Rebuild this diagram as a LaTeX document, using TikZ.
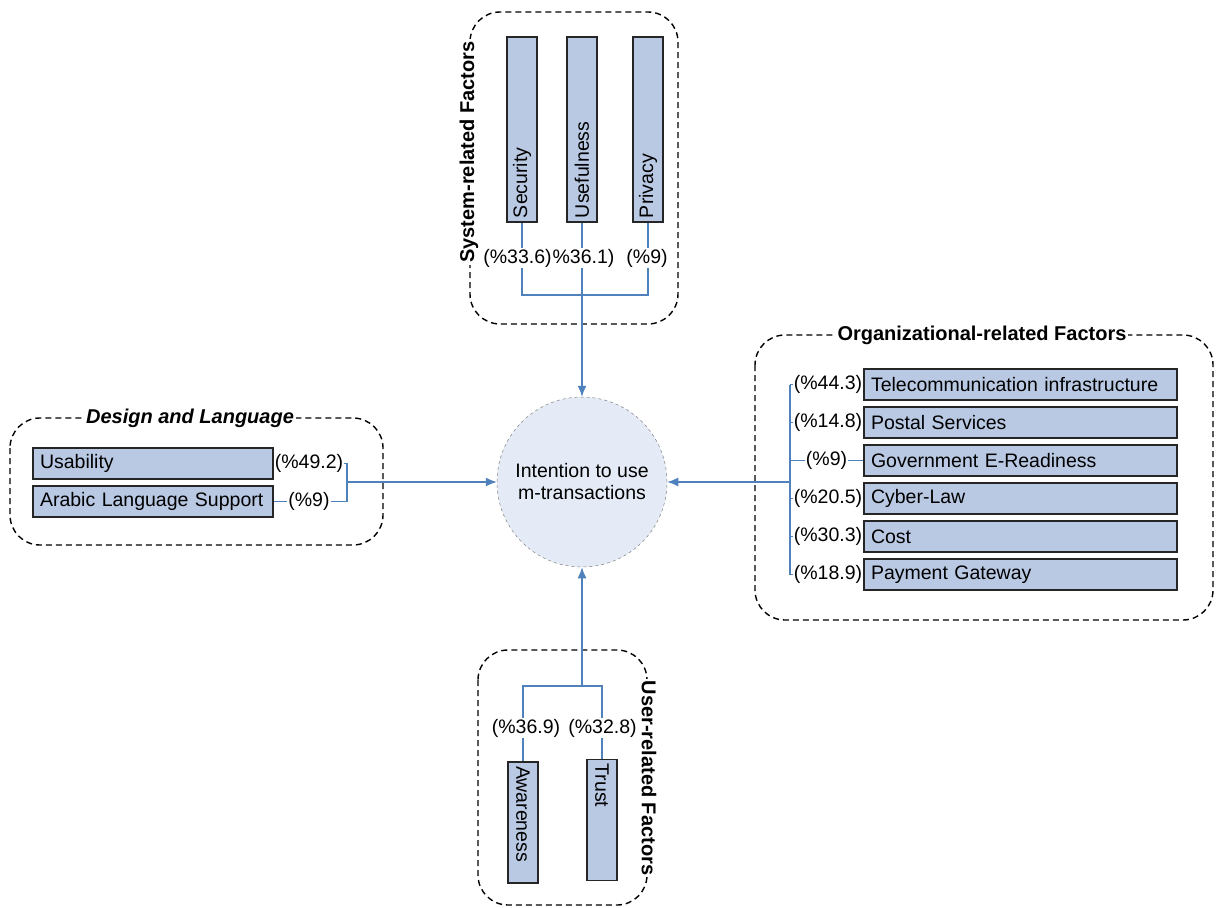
\documentclass[tikz,border=0pt]{standalone}
\usepackage{fontspec}
\setmainfont{Liberation Sans}
\usetikzlibrary{arrows.meta}
\definecolor{linkblue}{HTML}{4F81BD}
\definecolor{barfill}{HTML}{B9C9E3}
\definecolor{barline}{HTML}{262626}
\definecolor{circfill}{HTML}{E4EBF6}
\begin{document}
\begin{tikzpicture}[x=1pt,y=-1pt,
  txt/.style={font=\fontsize{19.5}{22}\selectfont},
  bar/.style={draw=barline, fill=barfill, line width=1.3pt, txt, inner ysep=0pt},
  hbar/.style={bar, minimum height=31pt, text width=#1, align=left, inner xsep=7pt},
  vbar/.style={bar, minimum height=30pt, text width=#1, align=left, inner xsep=4pt},
  pct/.style={txt, inner sep=1pt},
  grpbox/.style={draw=black, line width=1.4pt, dash pattern=on 6pt off 4pt, rounded corners=30pt},
  grplabel/.style={fill=white, inner sep=2pt, font=\fontsize{20}{24}\selectfont\bfseries},
  link/.style={draw=linkblue, line width=1.4pt},
  arrow/.style={link, -{Latex[length=11pt,width=9pt]}}
]
\useasboundingbox[fill=white] (0,0) rectangle (1222,907);

% group frames
\draw[grpbox] (470,12) rectangle (678,324);
\draw[grpbox] (10,418) rectangle (383,545);
\draw[grpbox] (755,335) rectangle (1213,620);
\draw[grpbox] (478,650) rectangle (647,905);

\node[grplabel, rotate=90] (sysl) at (469,152) {System-related Factors};
\node[grplabel, font=\fontsize{20}{24}\selectfont\bfseries\itshape] (desl) at (190,418) {Design and Language};
\node[grplabel] (orgl) at (982,335) {Organizational-related Factors};
\node[grplabel, rotate=-90] (usrl) at (649,778) {User-related Factors};

% central construct
\node[circle, minimum size=170pt, fill=circfill, draw=gray, dashed, line width=0.5pt,
      txt, align=center, font=\fontsize{19.5}{22}\selectfont] (c) at (582,482)
      {Intention to use\\m-transactions};

% system-related factors
\node[vbar=177pt, rotate=90] (sec) at (522,129.5) {Security};
\node[vbar=177pt, rotate=90] (use) at (582,129.5) {Usefulness};
\node[vbar=177pt, rotate=90] (priv) at (648,129.5) {Privacy};
\node[pct, inner xsep=0pt] (s1) at (517.5,258) {(\%33.6)};
\node[pct, inner xsep=0pt] (s2) at (583.5,258) {\%36.1)};
\node[pct] (s3) at (647,258) {(\%9)};
\coordinate (sbus) at (582,295);
\draw[link] (sec.west) -- (sec.west |- s1.north);
\draw[link] (use.west) -- (use.west |- s2.north);
\draw[link] (priv.west) -- (priv.west |- s3.north);
\draw[link] (s1.south -| sec.west) -- (sec.west |- sbus) -- (priv.west |- sbus) -- (s3.south -| priv.west);
\draw[link] (s2.south -| use.west) -- (use.west |- sbus);
\draw[arrow] (sbus) -- (c.north);

% design and language
\node[hbar=226pt] (usab) at (153,463.5) {Usability};
\node[hbar=226pt] (arab) at (153,501.5) {Arabic Language Support};
\node[pct, anchor=west] (d1) at (usab.east) {(\%49.2)};
\node[pct] (d2) at (309,501.5) {(\%9)};
\coordinate (dbus) at (347,482);
\draw[link] (d1.east) -| (dbus |- d2.east) -- (d2.east);
\draw[link] (arab.east) -- (d2.west);
\draw[arrow] (dbus) -- (c.west);

% organizational-related factors
\node[hbar=299pt] (o1) at (1020.5,384.5) {Telecommunication infrastructure};
\node[hbar=299pt] (o2) at (1020.5,422.5) {Postal Services};
\node[hbar=299pt] (o3) at (1020.5,460.5) {Government E-Readiness};
\node[hbar=299pt] (o4) at (1020.5,498.5) {Cyber-Law};
\node[hbar=299pt] (o5) at (1020.5,536.5) {Cost};
\node[hbar=299pt] (o6) at (1020.5,574.5) {Payment Gateway};
\node[pct, anchor=east] (q1) at (o1.west) {(\%44.3)};
\node[pct, anchor=east] (q2) at (o2.west) {(\%14.8)};
\node[pct] (q3) at (826.5,460.5) {(\%9)};
\node[pct, anchor=east] (q4) at (o4.west) {(\%20.5)};
\node[pct, anchor=east] (q5) at (o5.west) {(\%30.3)};
\node[pct, anchor=east] (q6) at (o6.west) {(\%18.9)};
\coordinate (obus) at (790,482);
\draw[link] (obus |- o1.west) -- (obus |- o6.west);
\foreach \q in {q1,q2,q3,q4,q5,q6}
  \draw[link] (obus |- \q.west) -- (\q.west);
\draw[link] (q3.east) -- (o3.west);
\draw[arrow] (obus) -- (c.east);

% user-related factors
\node[vbar=113pt, rotate=-90] (awar) at (523,822.5) {Awareness};
\node[vbar=113pt, rotate=-90] (trust) at (602,820) {Trust};
\node[pct] (u1) at (526,728) {(\%36.9)};
\node[pct] (u2) at (602.5,728) {(\%32.8)};
\coordinate (ubus) at (582,686);
\draw[link] (awar.west) -- (awar.west |- u1.south);
\draw[link] (trust.west) -- (trust.west |- u2.south);
\draw[link] (u1.north -| awar.west) -- (awar.west |- ubus) -- (trust.west |- ubus) -- (u2.north -| trust.west);
\draw[arrow] (ubus) -- (c.south);
\end{tikzpicture}
\end{document}
